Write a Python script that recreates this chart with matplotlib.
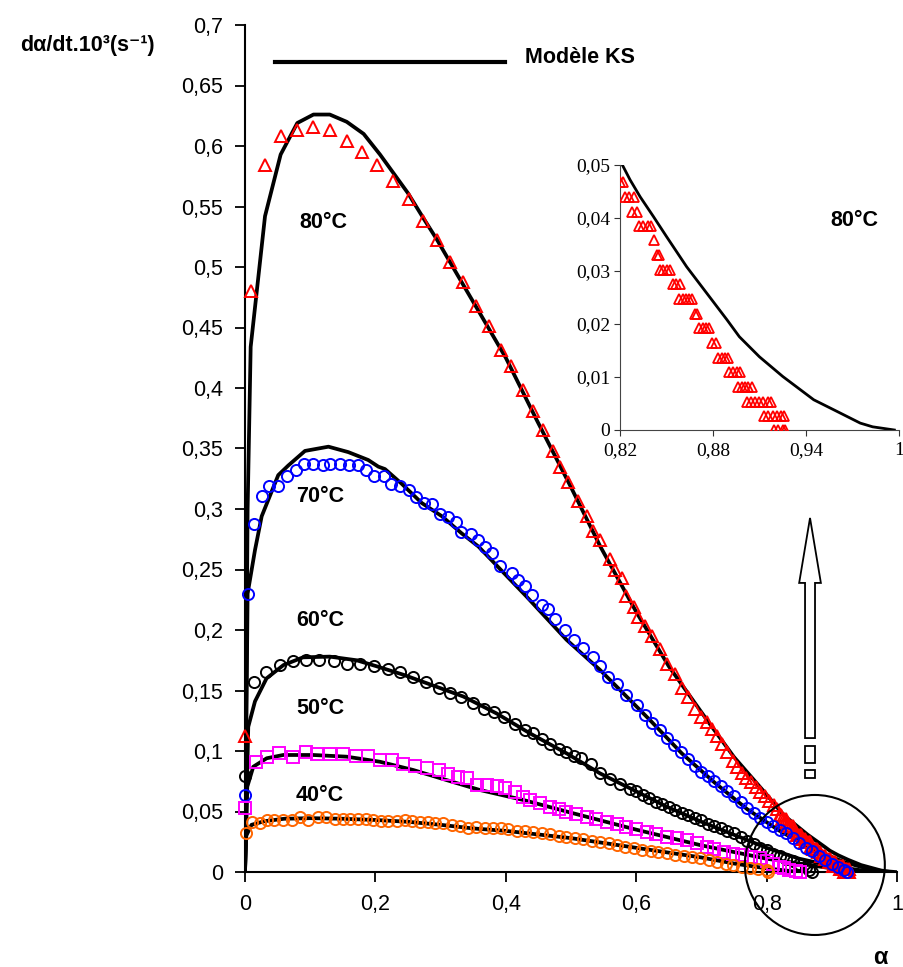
import matplotlib
matplotlib.use("Agg")
import matplotlib.pyplot as plt
import matplotlib.patches as patches
from matplotlib.ticker import MultipleLocator, FuncFormatter, FixedLocator

plt.rcParams['font.family'] = ['Liberation Sans', 'DejaVu Sans']

# --- measured points (alpha, dalpha/dt) ---
t80_x = [0.0005, 0.0087, 0.031, 0.055, 0.080, 0.105, 0.130, 0.156, 0.180, 0.202, 0.227, 0.251,
         0.273, 0.294, 0.314, 0.335, 0.355, 0.374, 0.392, 0.408, 0.426, 0.442, 0.457, 0.473,
         0.483, 0.496, 0.511, 0.524, 0.533, 0.545, 0.560, 0.568, 0.578, 0.585, 0.596, 0.603,
         0.614, 0.624, 0.637, 0.647, 0.660, 0.670, 0.680, 0.690, 0.700, 0.708, 0.716, 0.724,
         0.732, 0.740, 0.748, 0.755, 0.762, 0.769, 0.776, 0.783, 0.790, 0.797, 0.804, 0.811,
         0.816,
         0.820, 0.822, 0.823, 0.826, 0.829, 0.8275, 0.831, 0.832, 0.835, 0.838, 0.840, 0.842,
         0.8437, 0.8454, 0.846, 0.848, 0.8505, 0.852, 0.854, 0.856, 0.8587, 0.8583, 0.8604,
         0.8626, 0.8647, 0.8664, 0.8684, 0.8699, 0.8712, 0.8733, 0.8755, 0.8776, 0.8791, 0.8819,
         0.8834, 0.8856, 0.8877, 0.8899, 0.8903, 0.8927, 0.8953, 0.8974, 0.8963, 0.8985, 0.9006,
         0.9028, 0.9049, 0.9017, 0.9043, 0.9071, 0.9097, 0.9125, 0.9152, 0.9174, 0.9129, 0.9157,
         0.9185, 0.9211, 0.9236, 0.9260, 0.9193, 0.9221, 0.9249, 0.9264]
t80_y = [0.112, 0.480, 0.584, 0.608, 0.613, 0.616, 0.613, 0.604, 0.595, 0.584, 0.571, 0.556,
         0.538, 0.522, 0.504, 0.488, 0.468, 0.451, 0.431, 0.418, 0.398, 0.381, 0.365, 0.348,
         0.335, 0.322, 0.307, 0.294, 0.282, 0.274, 0.259, 0.250, 0.243, 0.228, 0.219, 0.211,
         0.203, 0.195, 0.184, 0.172, 0.164, 0.152, 0.145, 0.135, 0.128, 0.124, 0.118, 0.112,
         0.106, 0.099, 0.092, 0.087, 0.082, 0.078, 0.074, 0.070, 0.066, 0.063, 0.059, 0.055,
         0.052,
         0.0467, 0.0467, 0.0440, 0.0440, 0.0440, 0.0412, 0.0412, 0.0384, 0.0384, 0.0384, 0.0384, 0.0358,
         0.0330, 0.0330, 0.0302, 0.0302, 0.0302, 0.0302, 0.0275, 0.0275, 0.0275, 0.0247, 0.0247,
         0.0247, 0.0247, 0.0247, 0.0219, 0.0219, 0.0192, 0.0192, 0.0192, 0.0192, 0.0164, 0.0164,
         0.0135, 0.0135, 0.0135, 0.0135, 0.0110, 0.0110, 0.0110, 0.0110, 0.0082, 0.0082, 0.0082,
         0.0082, 0.0082, 0.0053, 0.0053, 0.0053, 0.0053, 0.0053, 0.0053, 0.0053, 0.0026, 0.0026,
         0.0026, 0.0026, 0.0026, 0.0026, 0.0, 0.0, 0.0, 0.0]

c70_x = [0.0, 0.004, 0.0143, 0.0256, 0.037, 0.050, 0.065, 0.078, 0.091, 0.105, 0.119, 0.130,
         0.146, 0.159, 0.173, 0.186, 0.198, 0.213, 0.224, 0.238, 0.251, 0.262, 0.275, 0.287,
         0.299, 0.311, 0.323, 0.332, 0.346, 0.358, 0.368, 0.379, 0.391, 0.409, 0.419, 0.429,
         0.440, 0.455, 0.465, 0.476, 0.491, 0.504, 0.519, 0.534, 0.545, 0.557, 0.570, 0.585,
         0.601, 0.614, 0.625, 0.636, 0.647, 0.658, 0.669, 0.680, 0.690, 0.700, 0.710, 0.720,
         0.730, 0.740, 0.750, 0.760, 0.770, 0.780, 0.790, 0.800, 0.810, 0.820, 0.830, 0.840,
         0.850, 0.860, 0.870, 0.880, 0.890, 0.900, 0.910, 0.918, 0.923]
c70_y = [0.064, 0.230, 0.288, 0.311, 0.319, 0.319, 0.327, 0.332, 0.337, 0.337, 0.336, 0.337,
         0.337, 0.336, 0.336, 0.332, 0.327, 0.327, 0.321, 0.319, 0.316, 0.310, 0.305, 0.304,
         0.296, 0.293, 0.289, 0.281, 0.279, 0.274, 0.269, 0.264, 0.253, 0.247, 0.241, 0.236,
         0.229, 0.221, 0.217, 0.209, 0.200, 0.192, 0.185, 0.178, 0.170, 0.161, 0.155, 0.146,
         0.138, 0.130, 0.123, 0.117, 0.111, 0.105, 0.099, 0.093, 0.088, 0.083, 0.079, 0.075,
         0.071, 0.067, 0.063, 0.058, 0.053, 0.049, 0.045, 0.041, 0.038, 0.035, 0.032, 0.028,
         0.024, 0.020, 0.017, 0.013, 0.010, 0.007, 0.004, 0.002, 0.0]

c60_x = [0.0, 0.0138, 0.032, 0.053, 0.073, 0.094, 0.114, 0.136, 0.157, 0.176, 0.198, 0.220,
         0.238, 0.258, 0.278, 0.297, 0.314, 0.332, 0.349, 0.367, 0.382, 0.397, 0.414, 0.429,
         0.442, 0.455, 0.468, 0.481, 0.493, 0.505, 0.516, 0.530, 0.545, 0.560, 0.575, 0.590,
         0.600, 0.610, 0.620, 0.630, 0.640, 0.650, 0.660, 0.670, 0.680, 0.690, 0.700, 0.710,
         0.720, 0.730, 0.740, 0.750, 0.760, 0.770, 0.780, 0.790, 0.800, 0.810, 0.820, 0.830,
         0.840, 0.850, 0.860, 0.865, 0.870]
c60_y = [0.079, 0.157, 0.165, 0.171, 0.174, 0.175, 0.175, 0.174, 0.172, 0.172, 0.170, 0.168,
         0.165, 0.161, 0.157, 0.152, 0.148, 0.145, 0.140, 0.135, 0.132, 0.128, 0.122, 0.117,
         0.115, 0.110, 0.106, 0.102, 0.099, 0.096, 0.094, 0.089, 0.082, 0.077, 0.073, 0.069,
         0.067, 0.064, 0.061, 0.058, 0.056, 0.054, 0.051, 0.049, 0.047, 0.045, 0.043, 0.040,
         0.038, 0.036, 0.034, 0.032, 0.029, 0.026, 0.023, 0.020, 0.018, 0.015, 0.013, 0.011,
         0.009, 0.007, 0.004, 0.002, 0.0]

s50_x = [0.0, 0.0169, 0.0342, 0.0526, 0.0741, 0.0936, 0.111, 0.130, 0.151, 0.170, 0.188, 0.207,
         0.225, 0.243, 0.261, 0.279, 0.297, 0.312, 0.327, 0.341, 0.356, 0.371, 0.386, 0.399,
         0.414, 0.427, 0.437, 0.452, 0.468, 0.481, 0.493, 0.508, 0.524, 0.539, 0.555, 0.570,
         0.585, 0.600, 0.616, 0.631, 0.647, 0.662, 0.678, 0.693, 0.708, 0.720, 0.735, 0.749,
         0.762, 0.776, 0.790, 0.800, 0.810, 0.820, 0.826, 0.835, 0.845, 0.851]
s50_y = [0.0526, 0.0911, 0.0947, 0.0986, 0.0947, 0.0994, 0.0975, 0.0975, 0.0975, 0.0959, 0.0959, 0.0926,
         0.0926, 0.0893, 0.0876, 0.0856, 0.0843, 0.081, 0.0782, 0.0774, 0.0719, 0.0719, 0.0711, 0.0691,
         0.0663, 0.062, 0.0595, 0.057, 0.054, 0.052, 0.0498, 0.048, 0.0457, 0.0436, 0.0415, 0.0395,
         0.0374, 0.0353, 0.0333, 0.0312, 0.0292, 0.0278, 0.0264, 0.0236, 0.0209, 0.019, 0.0165, 0.0152,
         0.0138, 0.0125, 0.0113, 0.009, 0.007, 0.0045, 0.003, 0.0015, 0.0005, 0.0]

c40_x = [0.0015, 0.010, 0.023, 0.033, 0.044, 0.058, 0.072, 0.084, 0.097, 0.1125, 0.125, 0.138,
         0.150, 0.161, 0.173, 0.185, 0.197, 0.209, 0.220, 0.233, 0.245, 0.256, 0.268, 0.280,
         0.292, 0.304, 0.317, 0.330, 0.3425, 0.355, 0.368, 0.381, 0.392, 0.404, 0.417, 0.430,
         0.442, 0.455, 0.468, 0.481, 0.493, 0.506, 0.519, 0.532, 0.545, 0.558, 0.570, 0.583,
         0.596, 0.609, 0.622, 0.634, 0.647, 0.660, 0.673, 0.686, 0.698, 0.711, 0.724, 0.737,
         0.749, 0.762, 0.775, 0.787, 0.800, 0.8026]
c40_y = [0.0325, 0.0415, 0.0402, 0.043, 0.043, 0.043, 0.043, 0.0457, 0.043, 0.0451, 0.0451, 0.044,
         0.044, 0.0435, 0.0438, 0.0438, 0.043, 0.0425, 0.0425, 0.0423, 0.0426, 0.0423, 0.0415, 0.041,
         0.0405, 0.0402, 0.039, 0.0378, 0.036, 0.037, 0.0365, 0.036, 0.036, 0.0355, 0.034, 0.0335,
         0.0333, 0.032, 0.031, 0.030, 0.0292, 0.028, 0.027, 0.026, 0.025, 0.0237, 0.0223, 0.021,
         0.0195, 0.0185, 0.0175, 0.0164, 0.0154, 0.0144, 0.0134, 0.0124, 0.0113, 0.010, 0.0085, 0.007,
         0.0058, 0.0045, 0.0035, 0.0025, 0.0017, 0.0]

# --- KS model curves ---
ks80_x = [0.0, 0.004, 0.0087, 0.0307, 0.0547, 0.0802, 0.105, 0.130, 0.156, 0.182, 0.207, 0.250,
          0.274, 0.294, 0.335, 0.360, 0.400, 0.447, 0.500, 0.545, 0.600, 0.650, 0.708, 0.750,
          0.800, 0.821, 0.8265, 0.833, 0.8415, 0.850, 0.863, 0.876, 0.889, 0.897, 0.910, 0.925,
          0.945, 0.958, 0.975, 0.983, 0.997]
ks80_y = [0.0, 0.300, 0.434, 0.542, 0.593, 0.619, 0.626, 0.626, 0.620, 0.610, 0.593, 0.561,
          0.540, 0.523, 0.485, 0.462, 0.425, 0.374, 0.318, 0.269, 0.215, 0.170, 0.126, 0.095,
          0.064, 0.0503, 0.0472, 0.0440, 0.0403, 0.0365, 0.0308, 0.0258, 0.0208, 0.0176, 0.0138, 0.0101,
          0.0057, 0.0038, 0.0013, 0.0006, 0.0]

ks70_x = [0.0, 0.004, 0.0153, 0.0256, 0.051, 0.0665, 0.092, 0.128, 0.1585, 0.189, 0.2045, 0.2147,
          0.240, 0.271, 0.302, 0.332, 0.358, 0.383, 0.432, 0.493, 0.5445, 0.5956, 0.621, 0.670,
          0.720, 0.770, 0.820, 0.870, 0.920, 0.960, 0.990]
ks70_y = [0.0, 0.230, 0.266, 0.294, 0.328, 0.336, 0.348, 0.3515, 0.347, 0.3405, 0.335, 0.333,
          0.321, 0.305, 0.294, 0.280, 0.269, 0.255, 0.2275, 0.192, 0.167, 0.1394, 0.1256, 0.098,
          0.074, 0.052, 0.034, 0.019, 0.008, 0.002, 0.0]

ks60_x = [0.0, 0.005, 0.0153, 0.033, 0.059, 0.089, 0.130, 0.171, 0.202, 0.243, 0.284, 0.335,
          0.386, 0.437, 0.4934, 0.5445, 0.5956, 0.6467, 0.6979, 0.749, 0.800, 0.850, 0.900, 0.950, 0.970]
ks60_y = [0.0, 0.120, 0.141, 0.160, 0.171, 0.1774, 0.178, 0.175, 0.170, 0.163, 0.155, 0.145,
          0.131, 0.1146, 0.098, 0.0815, 0.0678, 0.054, 0.042, 0.031, 0.020, 0.011, 0.005, 0.001, 0.0]

ks50_x = [0.0, 0.0035, 0.0127, 0.0333, 0.0587, 0.1048, 0.156, 0.207, 0.258, 0.309, 0.360, 0.427,
          0.500, 0.600, 0.700, 0.800, 0.900, 0.950]
ks50_y = [0.0, 0.0705, 0.087, 0.094, 0.0967, 0.0967, 0.0953, 0.0911, 0.0843, 0.076, 0.0678, 0.0595,
          0.049, 0.035, 0.022, 0.011, 0.003, 0.0]

ks40_x = [0.0, 0.002, 0.010, 0.030, 0.060, 0.100, 0.150, 0.200, 0.250, 0.300, 0.350, 0.400,
          0.450, 0.500, 0.550, 0.600, 0.650, 0.700, 0.750, 0.800, 0.850]
ks40_y = [0.0, 0.030, 0.039, 0.042, 0.044, 0.0445, 0.044, 0.043, 0.0415, 0.039, 0.036, 0.034,
          0.031, 0.028, 0.024, 0.020, 0.016, 0.012, 0.007, 0.003, 0.0]

labels = ['80°C', '70°C', '60°C', '50°C', '40°C']
label_x = [0.12, 0.115, 0.115, 0.115, 0.115]
label_y = [0.537, 0.31, 0.208, 0.1355, 0.0636]


def comma(v, pos):
    return f"{v:g}".replace('.', ',')


fig = plt.figure(figsize=(9.04, 9.67), dpi=100)
ax = fig.add_axes([245 / 904, 1 - 872 / 967, 652 / 904, 847 / 967])

series = [
    (t80_x, t80_y, '^', '#FF0000', 9),
    (c70_x, c70_y, 'o', '#0000FF', 8),
    (c60_x, c60_y, 'o', '#000000', 8),
    (s50_x, s50_y, 's', '#FF00FF', 8),
    (c40_x, c40_y, 'o', '#FF6600', 8),
]
ks = [(ks80_x, ks80_y), (ks70_x, ks70_y), (ks60_x, ks60_y), (ks50_x, ks50_y), (ks40_x, ks40_y)]

for (kx, ky) in ks:
    ax.plot(kx, ky, color='black', lw=2.7, zorder=2, solid_joinstyle='round')

for (x, y, m, c, ms) in series:
    ax.plot(x, y, ls='none', marker=m, ms=ms, mfc='none', mec=c, mew=1.4,
            zorder=3, clip_on=False)

for t, lx, ly in zip(labels, label_x, label_y):
    ax.text(lx, ly, t, fontsize=15.5, fontweight='bold', ha='center', va='center')

ax.set_xlim(0, 1)
ax.set_ylim(0, 0.7)
ax.xaxis.set_major_locator(MultipleLocator(0.2))
ax.yaxis.set_major_locator(MultipleLocator(0.05))
ax.xaxis.set_major_formatter(FuncFormatter(comma))
ax.yaxis.set_major_formatter(FuncFormatter(comma))
ax.tick_params(axis='both', direction='out', length=7, width=1.3, labelsize=15.5)
ax.tick_params(axis='y', pad=9)
ax.tick_params(axis='x', pad=9)
for s in ['top', 'right']:
    ax.spines[s].set_visible(False)
for s in ['left', 'bottom']:
    ax.spines[s].set_linewidth(1.5)

# legend key
ax.plot([0.046, 0.399], [0.956, 0.956], transform=ax.transAxes, color='black', lw=3,
        clip_on=False)
ax.text(0.429, 0.962, 'Modèle KS', transform=ax.transAxes, fontsize=15.5, fontweight='bold',
        ha='left', va='center')

# zoom circle and hollow arrow
ax.add_patch(patches.Ellipse((0.874, 0.0058), 0.2147, 0.1157, fill=False, edgecolor='black',
                             lw=1.5, clip_on=False, zorder=5))
ax.add_patch(patches.FancyArrow(0.8666, 0.1107, 0, 0.1282, width=0.0153, head_width=0.0333,
                                head_length=0.0537, length_includes_head=False,
                                facecolor='white', edgecolor='black', lw=1.3, zorder=5))
ax.add_patch(patches.Rectangle((0.8589, 0.0903), 0.0153, 0.014, facecolor='white',
                               edgecolor='black', lw=1.3, zorder=5))
ax.add_patch(patches.Rectangle((0.8589, 0.0774), 0.0153, 0.0069, facecolor='white',
                               edgecolor='black', lw=1.3, zorder=5))

fig.text(20 / 904, 1 - 45 / 967, 'dα/dt.10³(s⁻¹)', fontsize=15.5, fontweight='bold',
         ha='left', va='center')
fig.text(880 / 904, 1 - 957 / 967, 'α', fontsize=17, fontweight='bold', ha='center',
         va='center')

# inset
ins = fig.add_axes([620 / 904, 1 - 430 / 967, 279 / 904, 265 / 967])
ins.plot(ks80_x, ks80_y, color='black', lw=2, zorder=2)
ins.plot(t80_x, t80_y, ls='none', marker='^', ms=6.5, mfc='none', mec='#FF0000', mew=1.3,
         zorder=3)
ins.set_xlim(0.82, 1.0)
ins.set_ylim(0, 0.05)
ins.xaxis.set_major_locator(FixedLocator([0.82, 0.88, 0.94, 1.0]))
ins.yaxis.set_major_locator(MultipleLocator(0.01))
ins.xaxis.set_major_formatter(FuncFormatter(comma))
ins.yaxis.set_major_formatter(FuncFormatter(comma))
ins.tick_params(axis='both', direction='out', length=4, width=0.8, labelsize=14, colors='#333333')
ins.tick_params(axis='x', pad=5)
ins.tick_params(axis='y', pad=3)
for lab in ins.get_xticklabels() + ins.get_yticklabels():
    lab.set_fontfamily('Liberation Serif')
    lab.set_color('black')
for s in ['top', 'right']:
    ins.spines[s].set_visible(False)
for s in ['left', 'bottom']:
    ins.spines[s].set_linewidth(0.8)
    ins.spines[s].set_color('#444444')
ins.text(0.84, 0.79, '80°C', transform=ins.transAxes, fontsize=15.5, fontweight='bold',
         ha='center', va='center')

fig.savefig('out.png', dpi=100)
